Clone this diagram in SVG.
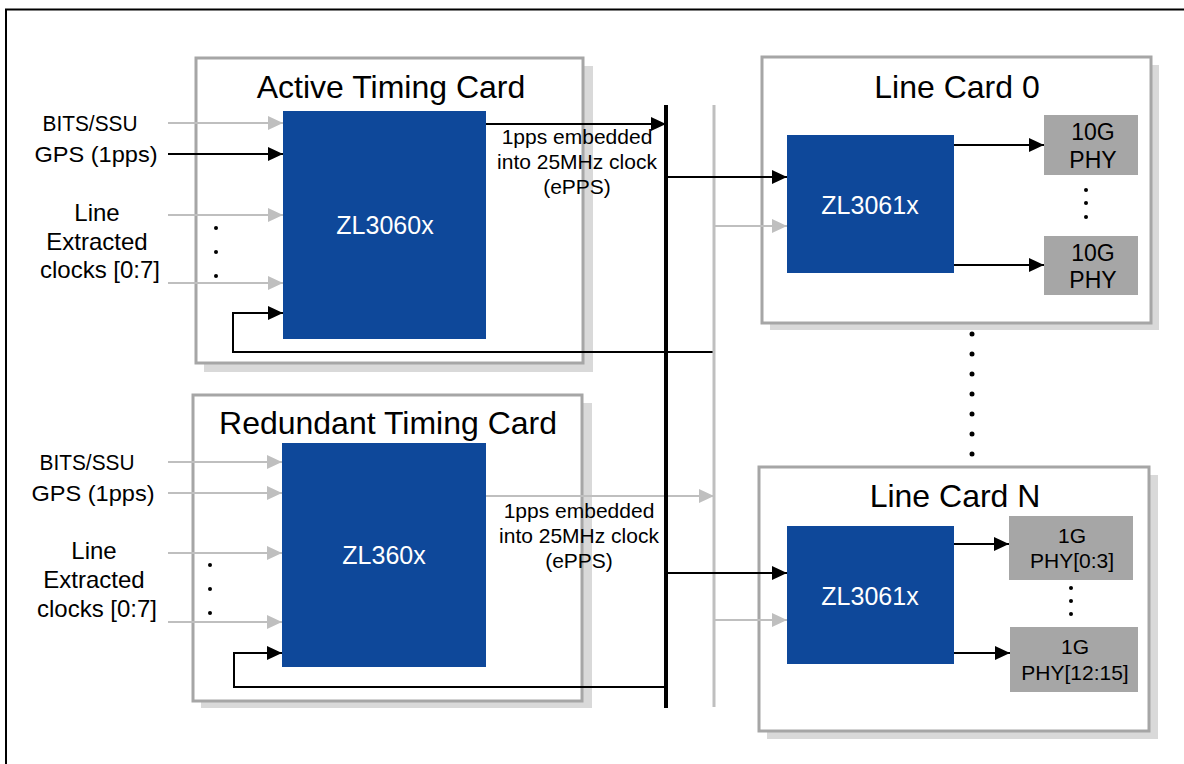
<svg xmlns="http://www.w3.org/2000/svg" width="1184" height="764" viewBox="0 0 1184 764">
<defs>
<style>
text{font-family:"Liberation Sans",Arial,sans-serif;fill:#000}
.card{fill:#fff;stroke:#a6a6a6;stroke-width:3}
.shadow{fill:#d9d9d9}
.chip{fill:#0e489a}
.phy{fill:#a6a6a6}
.title{font-size:32px;text-anchor:middle}
.chipt{font-size:25px;fill:#fff;text-anchor:middle}
.lbl{font-size:22px;text-anchor:middle}
.lb2{font-size:24px;text-anchor:middle}
.phyt{font-size:23px;text-anchor:middle}
.sm{font-size:21px;text-anchor:middle}
.blk{stroke:#000;stroke-width:2;fill:none}
.gry{stroke:#bfbfbf;stroke-width:2;fill:none}
.dot{fill:#000}
</style>
<marker id="ab" markerUnits="userSpaceOnUse" markerWidth="16" markerHeight="15" refX="15" refY="7" orient="auto"><path d="M0,0L15,7L0,14z" fill="#000"/></marker>
<marker id="ag" markerUnits="userSpaceOnUse" markerWidth="16" markerHeight="15" refX="15" refY="7" orient="auto"><path d="M0,0L15,7L0,14z" fill="#bfbfbf"/></marker>
</defs>
<rect width="1184" height="764" fill="#fff"/>
<path d="M6,800V9.5H1200" fill="none" stroke="#000" stroke-width="2"/>

<g id="active-card">
<rect class="shadow" x="204" y="66" width="389" height="306"/>
<rect class="card" x="196" y="58" width="387" height="305"/>
<text class="title" x="391" y="98">Active Timing Card</text>
</g>
<g id="active-chip">
<rect class="chip" x="283" y="111" width="203" height="228"/>
<text class="chipt" x="385" y="234">ZL3060x</text>
</g>
<g id="active-inputs">
<text class="lbl" x="90" y="131" textLength="95" lengthAdjust="spacingAndGlyphs">BITS/SSU</text>
<text class="lbl" x="96" y="162" textLength="123" lengthAdjust="spacingAndGlyphs">GPS (1pps)</text>
<text class="lb2" x="97" y="221">Line</text>
<text class="lb2" x="97" y="250">Extracted</text>
<text class="lb2" x="100" y="278">clocks [0:7]</text>
<circle class="dot" cx="216" cy="228" r="2"/>
<circle class="dot" cx="216" cy="252" r="2"/>
<circle class="dot" cx="216" cy="276" r="2"/>
</g>

<g id="redundant-card">
<rect class="shadow" x="201" y="403" width="391" height="305"/>
<rect class="card" x="193" y="395" width="389" height="306"/>
<text class="title" x="388" y="434">Redundant Timing Card</text>
</g>
<g id="redundant-chip">
<rect class="chip" x="282" y="443" width="204" height="224"/>
<text class="chipt" x="384" y="564">ZL360x</text>
</g>
<g id="redundant-inputs">
<text class="lbl" x="87" y="470" textLength="95" lengthAdjust="spacingAndGlyphs">BITS/SSU</text>
<text class="lbl" x="93" y="501" textLength="123" lengthAdjust="spacingAndGlyphs">GPS (1pps)</text>
<text class="lb2" x="94" y="559">Line</text>
<text class="lb2" x="94" y="588">Extracted</text>
<text class="lb2" x="97" y="617">clocks [0:7]</text>
<circle class="dot" cx="210" cy="565" r="2"/>
<circle class="dot" cx="210" cy="589" r="2"/>
<circle class="dot" cx="210" cy="613" r="2"/>
</g>

<g id="line-card-0">
<rect class="shadow" x="770" y="65" width="389" height="265"/>
<rect class="card" x="762" y="57" width="389" height="266"/>
<text class="title" x="957" y="98">Line Card 0</text>
</g>
<g id="lc0-chip">
<rect class="chip" x="787" y="135" width="167" height="138"/>
<text class="chipt" x="870" y="214">ZL3061x</text>
</g>
<g id="lc0-phy-a">
<rect class="phy" x="1044" y="115" width="94" height="60"/>
<text class="phyt" x="1093" y="140">10G</text>
<text class="phyt" x="1093" y="168">PHY</text>
</g>
<g id="lc0-phy-b">
<rect class="phy" x="1044" y="236" width="94" height="59"/>
<text class="phyt" x="1093" y="261">10G</text>
<text class="phyt" x="1093" y="288">PHY</text>
</g>
<g id="lc0-dots">
<circle class="dot" cx="1086" cy="190" r="2"/>
<circle class="dot" cx="1086" cy="203" r="2"/>
<circle class="dot" cx="1086" cy="217" r="2"/>
</g>

<g id="card-dots">
<circle class="dot" cx="972" cy="334" r="2.5"/>
<circle class="dot" cx="972" cy="354" r="2.5"/>
<circle class="dot" cx="972" cy="374" r="2.5"/>
<circle class="dot" cx="972" cy="394" r="2.5"/>
<circle class="dot" cx="972" cy="414" r="2.5"/>
<circle class="dot" cx="972" cy="434" r="2.5"/>
<circle class="dot" cx="972" cy="454" r="2.5"/>
</g>

<g id="line-card-n">
<rect class="shadow" x="767" y="475" width="391" height="264"/>
<rect class="card" x="759" y="467" width="390" height="264"/>
<text class="title" x="955" y="507">Line Card N</text>
</g>
<g id="lcn-chip">
<rect class="chip" x="787" y="526" width="167" height="138"/>
<text class="chipt" x="870" y="605">ZL3061x</text>
</g>
<g id="lcn-phy-a">
<rect class="phy" x="1009" y="516" width="124" height="64"/>
<text class="sm" x="1072" y="543">1G</text>
<text class="sm" x="1072" y="568">PHY[0:3]</text>
</g>
<g id="lcn-phy-b">
<rect class="phy" x="1010" y="627" width="128" height="65"/>
<text class="sm" x="1075" y="654">1G</text>
<text class="sm" x="1075" y="680">PHY[12:15]</text>
</g>
<g id="lcn-dots">
<circle class="dot" cx="1071" cy="588" r="2"/>
<circle class="dot" cx="1071" cy="601" r="2"/>
<circle class="dot" cx="1071" cy="614" r="2"/>
</g>

<g id="epps-labels">
<text class="sm" x="577" y="144">1pps embedded</text>
<text class="sm" x="577" y="169">into 25MHz clock</text>
<text class="sm" x="577" y="194">(ePPS)</text>
<text class="sm" x="579" y="518">1pps embedded</text>
<text class="sm" x="579" y="543">into 25MHz clock</text>
<text class="sm" x="579" y="568">(ePPS)</text>
</g>

<g id="connectors">
<line class="gry" x1="168" y1="123" x2="283" y2="123" marker-end="url(#ag)"/>
<line class="blk" x1="168" y1="154" x2="283" y2="154" marker-end="url(#ab)"/>
<line class="gry" x1="168" y1="215" x2="283" y2="215" marker-end="url(#ag)"/>
<line class="gry" x1="168" y1="283" x2="283" y2="283" marker-end="url(#ag)"/>
<line class="gry" x1="168" y1="462" x2="282" y2="462" marker-end="url(#ag)"/>
<line class="gry" x1="168" y1="493" x2="282" y2="493" marker-end="url(#ag)"/>
<line class="gry" x1="168" y1="553" x2="282" y2="553" marker-end="url(#ag)"/>
<line class="gry" x1="168" y1="622" x2="282" y2="622" marker-end="url(#ag)"/>
<path class="blk" d="M714,352H233V313H283" marker-end="url(#ab)"/>
<path class="blk" d="M666,687H234V653H282" marker-end="url(#ab)"/>
<line class="gry" x1="486" y1="496" x2="714" y2="496" marker-end="url(#ag)"/>
<line x1="714" y1="105" x2="714" y2="707" stroke="#bfbfbf" stroke-width="3"/>
<line x1="666" y1="105" x2="666" y2="708" stroke="#000" stroke-width="4"/>
<line class="blk" x1="486" y1="124" x2="666" y2="124" marker-end="url(#ab)"/>
<line class="blk" x1="666" y1="177" x2="787" y2="177" marker-end="url(#ab)"/>
<line class="gry" x1="714" y1="226" x2="787" y2="226" marker-end="url(#ag)"/>
<line class="blk" x1="666" y1="573" x2="787" y2="573" marker-end="url(#ab)"/>
<line class="gry" x1="714" y1="620" x2="787" y2="620" marker-end="url(#ag)"/>
<line class="blk" x1="954" y1="145" x2="1044" y2="145" marker-end="url(#ab)"/>
<line class="blk" x1="954" y1="265" x2="1044" y2="265" marker-end="url(#ab)"/>
<line class="blk" x1="954" y1="544" x2="1009" y2="544" marker-end="url(#ab)"/>
<line class="blk" x1="954" y1="653" x2="1010" y2="653" marker-end="url(#ab)"/>
</g>
</svg>
